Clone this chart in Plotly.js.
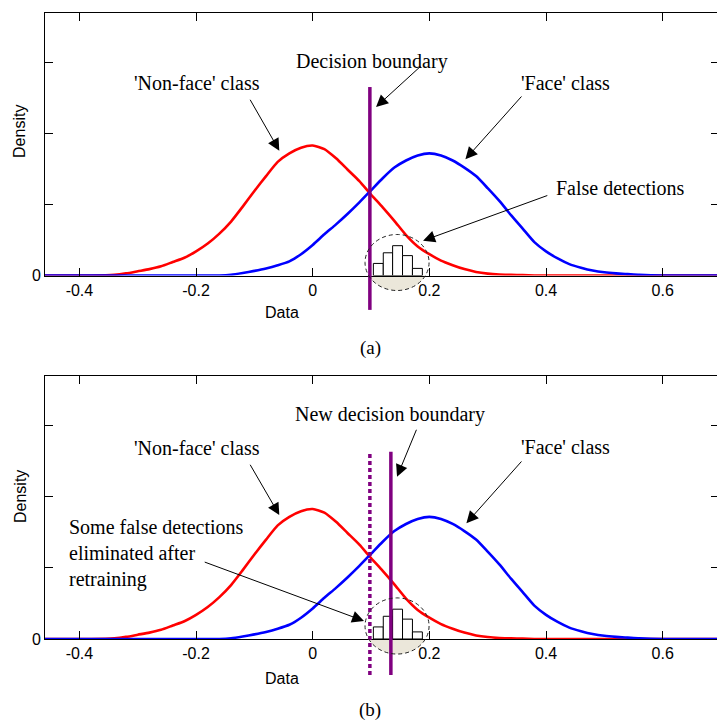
<!DOCTYPE html>
<html>
<head>
<meta charset="utf-8">
<script src="https://cdn.plot.ly/plotly-3.0.1.min.js"></script>
<style>
html, body { margin: 0; padding: 0; overflow: hidden; background: #fff; }
#chart { width: 722px; height: 720px; }
</style>
</head>
<body>
<div id="chart"></div>
<script>
// ---- data ----
const xGrid = [-0.46,-0.42,-0.38,-0.34,-0.32,-0.30,-0.28,-0.26,-0.24,-0.22,-0.20,-0.18,-0.16,-0.14,-0.12,-0.10,-0.08,-0.06,-0.04,-0.02,0.00,0.02,0.04,0.06,0.08,0.10,0.12,0.14,0.16,0.18,0.20,0.22,0.24,0.26,0.28,0.30,0.32,0.34,0.36,0.38,0.40,0.42,0.44,0.46,0.48,0.50,0.52,0.54,0.56,0.60,0.65,0.70];
const nonFaceDensity = [0,0,0,0.01,0.03,0.06,0.09,0.13,0.19,0.25,0.34,0.45,0.59,0.76,0.97,1.19,1.40,1.60,1.72,1.80,1.83,1.78,1.65,1.49,1.33,1.14,0.96,0.77,0.57,0.41,0.30,0.21,0.145,0.09,0.05,0.027,0.015,0.01,0.005,0,0,0,0,0,0,0,0,0,0,0,0,0];
const faceDensity = [0,0,0,0,0,0,0,0,0,0,0,0,0,0.01,0.035,0.065,0.10,0.145,0.20,0.30,0.43,0.58,0.72,0.87,1.03,1.20,1.37,1.52,1.62,1.69,1.72,1.69,1.62,1.52,1.40,1.23,1.05,0.85,0.66,0.47,0.34,0.24,0.16,0.11,0.07,0.045,0.03,0.02,0.01,0,0,0];
const histEdges = [0.104, 0.121, 0.137, 0.154, 0.171, 0.188];
const histHeights = [0.17, 0.32, 0.42, 0.28, 0.10];
const boundaryOld = 0.098;
const boundaryNew = 0.134;
const xTickVals = [-0.4, -0.2, 0, 0.2, 0.4, 0.6];
const xTickText = ['-0.4', '-0.2', '0', '0.2', '0.4', '0.6'];
const yTickVals = [0, 1, 2, 3];
const yTickText = ['0', '', '', ''];

// ---- derived ----
const histCenters = histEdges.slice(0, -1).map((e, i) => (e + histEdges[i + 1]) / 2);
const histWidths = histEdges.slice(0, -1).map((e, i) => histEdges[i + 1] - e);

const RED = '#ff0000', BLUE = '#0000ff', PURPLE = '#800080';
const SERIF = 'Liberation Serif', SANS = 'Liberation Sans';

function panelTraces(xa, ya) {
  return [
    {x: xGrid, y: nonFaceDensity, xaxis: xa, yaxis: ya, type: 'scatter', mode: 'lines',
     name: "'Non-face' class", line: {color: RED, width: 2.6, shape: 'spline', smoothing: 0.6}},
    {x: xGrid, y: faceDensity, xaxis: xa, yaxis: ya, type: 'scatter', mode: 'lines',
     name: "'Face' class", line: {color: BLUE, width: 2.6, shape: 'spline', smoothing: 0.6}},
    {x: histCenters, y: histHeights, width: histWidths, xaxis: xa, yaxis: ya, type: 'bar',
     name: 'False detections', marker: {color: '#ffffff', line: {color: '#000', width: 1}}}
  ];
}

const data = panelTraces('x', 'y').concat(panelTraces('x2', 'y2'));

function xAxis(anchor) {
  return {
    anchor: anchor, domain: [0, 1], range: [-0.459, 0.6966],
    showline: true, mirror: 'ticks', linecolor: '#000', linewidth: 1,
    ticks: 'inside', ticklen: 8, tickcolor: '#000',
    tickmode: 'array', tickvals: xTickVals, ticktext: xTickText,
    tickfont: {family: SANS, size: 16, color: '#000'},
    showgrid: false, zeroline: false, fixedrange: true
  };
}
function yAxis(anchor, domain, top) {
  return {
    anchor: anchor, domain: domain, range: [0, top],
    showline: true, mirror: 'ticks', linecolor: '#000', linewidth: 1,
    ticks: 'inside', ticklen: 8, tickcolor: '#000',
    tickmode: 'array', tickvals: yTickVals, ticktext: yTickText,
    tickfont: {family: SANS, size: 16, color: '#000'},
    showgrid: false, zeroline: false, fixedrange: true
  };
}

// circle (highlight) geometry: x in data units, y in axis-domain units
const circ = {cx: 0.1446, rx: 0.0549, cy: 0.0495, ry: 0.1067};
function lowerSegment(c) {
  const t0 = Math.asin(-c.cy / c.ry);
  const t1 = Math.PI - t0;
  const n = 30;
  let p = '';
  for (let i = 0; i <= n; i++) {
    const t = t1 + (2 * Math.PI + t0 - t1) * i / n;
    const px = c.cx + c.rx * Math.cos(t);
    const py = c.cy + c.ry * Math.sin(t);
    p += (i === 0 ? 'M' : 'L') + px.toFixed(5) + ',' + py.toFixed(5);
  }
  return p + 'Z';
}

function panelShapes(xr, yd, boundaries) {
  const s = [];
  s.push({type: 'path', xref: xr, yref: yd, path: lowerSegment(circ), layer: 'below',
          fillcolor: '#ebe7da', line: {width: 0}});
  boundaries.forEach(b => s.push({type: 'line', xref: xr, yref: yd, x0: b.x, x1: b.x,
    y0: b.y0, y1: b.y1, line: {color: PURPLE, width: 3.5, dash: b.dash}}));
  s.push({type: 'circle', xref: xr, yref: yd, x0: circ.cx - circ.rx, x1: circ.cx + circ.rx,
          y0: circ.cy - circ.ry, y1: circ.cy + circ.ry,
          line: {color: '#222', width: 1, dash: '4px,3px'}});
  return s;
}

const shapes = panelShapes('x', 'y domain', [{x: boundaryOld, y0: -0.131, y1: 0.718, dash: 'solid'}])
  .concat(panelShapes('x2', 'y2 domain', [
    {x: boundaryOld, y0: -0.137, y1: 0.712, dash: '4px,3px'},
    {x: boundaryNew, y0: -0.137, y1: 0.712, dash: 'solid'}]));

function label(xr, yr, x, y, text, extra) {
  return Object.assign({xref: xr, yref: yr, x: x, y: y, text: text, showarrow: false,
    font: {family: SERIF, size: 20, color: '#000'}, xanchor: 'center', yanchor: 'middle'}, extra || {});
}
function arrow(xr, yr, hx, hy, tx, ty) {
  return {xref: xr, yref: yr, axref: xr, ayref: yr, x: hx, y: hy, ax: tx, ay: ty, text: '',
    showarrow: true, arrowhead: 2, arrowsize: 2.4, arrowwidth: 1, arrowcolor: '#000', standoff: 0};
}
const sansFont = {family: SANS, size: 16, color: '#000'};

const annotations = [
  label('x', 'y', 0.1023, 3.021, 'Decision boundary'),
  arrow('x', 'y', 0.1086, 2.373, 0.1875, 2.965),
  label('x', 'y', -0.1985, 2.711, "'Non-face' class"),
  arrow('x', 'y', -0.0573, 1.758, -0.1087, 2.496),
  label('x', 'y', 0.4336, 2.716, "'Face' class"),
  arrow('x', 'y', 0.2618, 1.637, 0.3602, 2.542),
  label('x', 'y', 0.527, 1.232, 'False detections'),
  arrow('x', 'y', 0.1892, 0.490, 0.4048, 1.134),
  label('x', 'paper', -0.0527, 0.5653, 'Data', {font: sansFont}),
  label('paper', 'paper', -0.0371, 0.8181, 'Density', {font: sansFont, textangle: -90}),
  label('paper', 'paper', 0.4826, 0.5167, '(a)', {font: {family: SERIF, size: 19, color: '#000'}}),

  label('x2', 'y2', 0.1329, 3.155, 'New decision boundary'),
  arrow('x2', 'y2', 0.1446, 2.286, 0.1789, 2.968),
  label('x2', 'y2', -0.1985, 2.686, "'Non-face' class"),
  arrow('x2', 'y2', -0.0573, 1.746, -0.1087, 2.475),
  label('x2', 'y2', 0.4336, 2.70, "'Face' class"),
  arrow('x2', 'y2', 0.2635, 1.63, 0.3602, 2.521),
  label('x2', 'y2', -0.4214, 1.211, 'Some false detections<br>eliminated after<br>retraining',
        {xanchor: 'left', align: 'left'}),
  arrow('x2', 'y2', 0.088, 0.254, -0.1877, 1.091),
  label('x2', 'paper', -0.0527, 0.0583, 'Data', {font: sansFont}),
  label('paper', 'paper', -0.0371, 0.3111, 'Density', {font: sansFont, textangle: -90}),
  label('paper', 'paper', 0.4826, 0.0139, '(b)', {font: {family: SERIF, size: 19, color: '#000'}})
];

const layout = {
  width: 722, height: 720,
  margin: {l: 45, r: 3, t: 0, b: 0},
  paper_bgcolor: '#ffffff', plot_bgcolor: 'rgba(0,0,0,0)',
  showlegend: false, bargap: 0,
  font: {family: SANS, size: 16, color: '#000'},
  xaxis: xAxis('y'),
  yaxis: yAxis('x', [0.61736, 0.98194], 3.697),
  xaxis2: xAxis('y2'),
  yaxis2: yAxis('x2', [0.1125, 0.47778], 3.704),
  shapes: shapes,
  annotations: annotations
};

Plotly.newPlot('chart', data, layout, {staticPlot: true, displayModeBar: false});
</script>
</body>
</html>
